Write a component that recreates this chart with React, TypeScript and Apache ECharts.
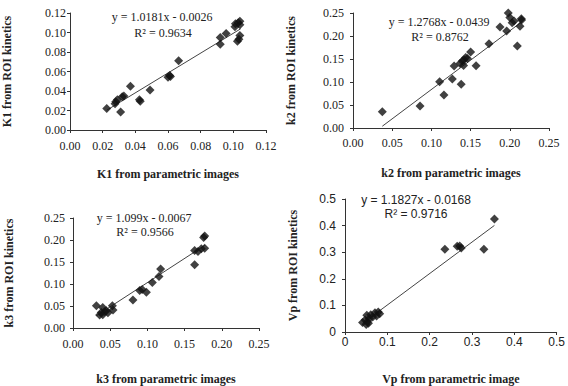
import React, { useEffect, useRef } from "react";
import * as echarts from "echarts";

// Panel 1: K1
const k1Points: number[][] = [
  [0.0225, 0.022], [0.028, 0.029], [0.0276, 0.027], [0.029, 0.031], [0.031, 0.0185],
  [0.032, 0.034], [0.033, 0.035], [0.037, 0.045], [0.043, 0.0295], [0.0425, 0.031],
  [0.049, 0.041], [0.060, 0.054], [0.061, 0.056], [0.0615, 0.055], [0.0665, 0.071],
  [0.092, 0.095], [0.092, 0.088], [0.0956, 0.099], [0.101, 0.106], [0.1013, 0.109],
  [0.103, 0.110], [0.104, 0.1115], [0.104, 0.108], [0.1025, 0.091], [0.1034, 0.093],
  [0.104, 0.097],
];
const k1Trend: number[][] = [[0.0225, 0.0203], [0.1045, 0.1038]];

// Panel 2: k2
const k2Points: number[][] = [
  [0.0374, 0.0355], [0.0855, 0.048], [0.1105, 0.1007], [0.116, 0.072], [0.1267, 0.1065],
  [0.129, 0.135], [0.1365, 0.140], [0.1395, 0.1457], [0.141, 0.136], [0.1416, 0.1486],
  [0.1437, 0.153], [0.146, 0.151], [0.138, 0.095], [0.150, 0.165], [0.157, 0.1355],
  [0.1735, 0.183], [0.1875, 0.2196], [0.196, 0.211], [0.198, 0.25], [0.200, 0.24],
  [0.203, 0.229], [0.2054, 0.2326], [0.2147, 0.2377], [0.213, 0.221], [0.215, 0.235],
  [0.2096, 0.178],
];
const k2Trend: number[][] = [[0.0374, 0.0039], [0.2147, 0.230]];

// Panel 3: k3
const k3Points: number[][] = [
  [0.0314, 0.0503], [0.0358, 0.0296], [0.038, 0.0355], [0.040, 0.0466], [0.040, 0.030],
  [0.0426, 0.0377], [0.0448, 0.039], [0.047, 0.0348], [0.0529, 0.0503], [0.0538, 0.041],
  [0.0806, 0.0636], [0.0896, 0.085], [0.093, 0.0873], [0.0986, 0.0814], [0.1066, 0.1036],
  [0.1156, 0.1169], [0.1178, 0.1339], [0.1635, 0.144], [0.1635, 0.176], [0.168, 0.174],
  [0.1725, 0.180], [0.177, 0.181], [0.177, 0.2093], [0.1756, 0.2056],
];
const k3Trend: number[][] = [[0.0314, 0.0278], [0.177, 0.1878]];

// Panel 4: Vp
const vpPoints: number[][] = [
  [0.236, 0.311], [0.265, 0.322], [0.271, 0.3237], [0.2746, 0.316], [0.328, 0.311],
  [0.353, 0.425], [0.0415, 0.036], [0.0477, 0.0447], [0.0515, 0.063], [0.053, 0.0386],
  [0.0577, 0.0507], [0.0554, 0.0326], [0.0608, 0.065], [0.0654, 0.0568], [0.0708, 0.0725],
  [0.0746, 0.060], [0.0785, 0.0749], [0.082, 0.069], [0.050, 0.028],
];
const vpTrend: number[][] = [[0.0415, 0.0323], [0.353, 0.4007]];

const panelNames = [
  ["K1 from parametric images", "K1 from ROI kinetics"],
  ["k2 from parametric images", "k2 from ROI kinetics"],
  ["k3 from parametric images", "k3 from ROI kinetics"],
  ["Vp from parametric image", "Vp from ROI kinetics"],
];
const equations = [
  ["y = 1.0181x - 0.0026", "R² = 0.9634"],
  ["y = 1.2768x - 0.0439", "R² = 0.8762"],
  ["y = 1.099x - 0.0067", "R² = 0.9566"],
  ["y = 1.1827x - 0.0168", "R² = 0.9716"],
];
const axisMax = [0.12, 0.25, 0.25, 0.5];
const axisInterval = [0.02, 0.05, 0.05, 0.1];
const labelDecimals = [2, 2, 2, -1];

const SERIF = "'Liberation Serif', 'Times New Roman', serif";
const SANS = "'Liberation Sans', Arial, sans-serif";

export default function App() {
  const ref = useRef<HTMLDivElement>(null);
  useEffect(() => {
    if (!ref.current) return;
    const chart = echarts.init(ref.current, undefined, { renderer: "svg" });
    const grids = [
      { left: 69, top: 13, width: 197, height: 117 },
      { left: 353, top: 13, width: 196, height: 115 },
      { left: 73, top: 218, width: 186, height: 114 },
      { left: 345, top: 199, width: 217, height: 137 },
    ];
    const xLabelMargin = [10, 9, 10, 4];
    const yLabelMargin = [4, 9, 8, 9];
    const yNameGap = [57, 56, 58, 46];
    const xNameGap = [38, 39, 45, 41];
    const fmt = (i: number) => (v: number) =>
      labelDecimals[i] < 0 ? String(Math.round(v * 10) / 10) : v.toFixed(labelDecimals[i]);
    const tickFont = (i: number) => (i === 3 ? SANS : SERIF);
    const makeAxis = (i: number, isX: boolean) => ({
      type: "value",
      gridIndex: i,
      min: 0,
      max: axisMax[i],
      interval: axisInterval[i],
      splitLine: { show: false },
      axisLine: { show: true, onZero: false, lineStyle: { color: "#333", width: 1 } },
      axisTick: { show: true, inside: false, length: 3, lineStyle: { color: "#333" } },
      axisLabel: {
        formatter: fmt(i),
        fontFamily: tickFont(i),
        fontSize: 12,
        color: "#222",
        margin: isX ? xLabelMargin[i] : yLabelMargin[i],
      },
      name: isX ? panelNames[i][0] : panelNames[i][1],
      nameLocation: "middle",
      nameGap: isX ? xNameGap[i] : yNameGap[i],
      nameTextStyle: {
        fontFamily: SERIF,
        fontWeight: "bold",
        fontSize: 12,
        color: "#222",
      },
    });
    const pts = [k1Points, k2Points, k3Points, vpPoints];
    const trends = [k1Trend, k2Trend, k3Trend, vpTrend];
    const series: any[] = [];
    for (let i = 0; i < 4; i++) {
      series.push({
        type: "line",
        xAxisIndex: i,
        yAxisIndex: i,
        data: trends[i],
        symbol: "none",
        lineStyle: { color: "#444", width: 1 },
        z: 1,
      });
      series.push({
        type: "scatter",
        xAxisIndex: i,
        yAxisIndex: i,
        data: pts[i],
        symbol: "diamond",
        symbolSize: 9,
        itemStyle: { color: "#111" },
        z: 2,
      });
    }
    const eqPos = [
      [162, 17, 163, 33],
      [439, 22, 440, 37],
      [144, 218, 145, 232],
      [416, 200, 416, 214],
    ];
    const graphic: any[] = [];
    for (let i = 0; i < 4; i++) {
      const font = i === 3 ? SANS : SERIF;
      graphic.push({
        type: "text",
        x: eqPos[i][0],
        y: eqPos[i][1],
        style: {
          text: equations[i][0],
          font: `12px ${font}`,
          fill: "#222",
          textAlign: "center",
          textVerticalAlign: "middle",
        },
      });
      graphic.push({
        type: "text",
        x: eqPos[i][2],
        y: eqPos[i][3],
        style: {
          text: equations[i][1],
          font: `12px ${font}`,
          fill: "#222",
          textAlign: "center",
          textVerticalAlign: "middle",
        },
      });
    }
    chart.setOption({
      animation: false,
      backgroundColor: "#fff",
      grid: grids,
      xAxis: [0, 1, 2, 3].map((i) => makeAxis(i, true)),
      yAxis: [0, 1, 2, 3].map((i) => makeAxis(i, false)),
      series,
      graphic,
    });
    return () => chart.dispose();
  }, []);
  return (
    <div
      ref={ref}
      style={{ position: "fixed", left: 0, top: 0, width: 568, height: 386, background: "#fff" }}
    />
  );
}
